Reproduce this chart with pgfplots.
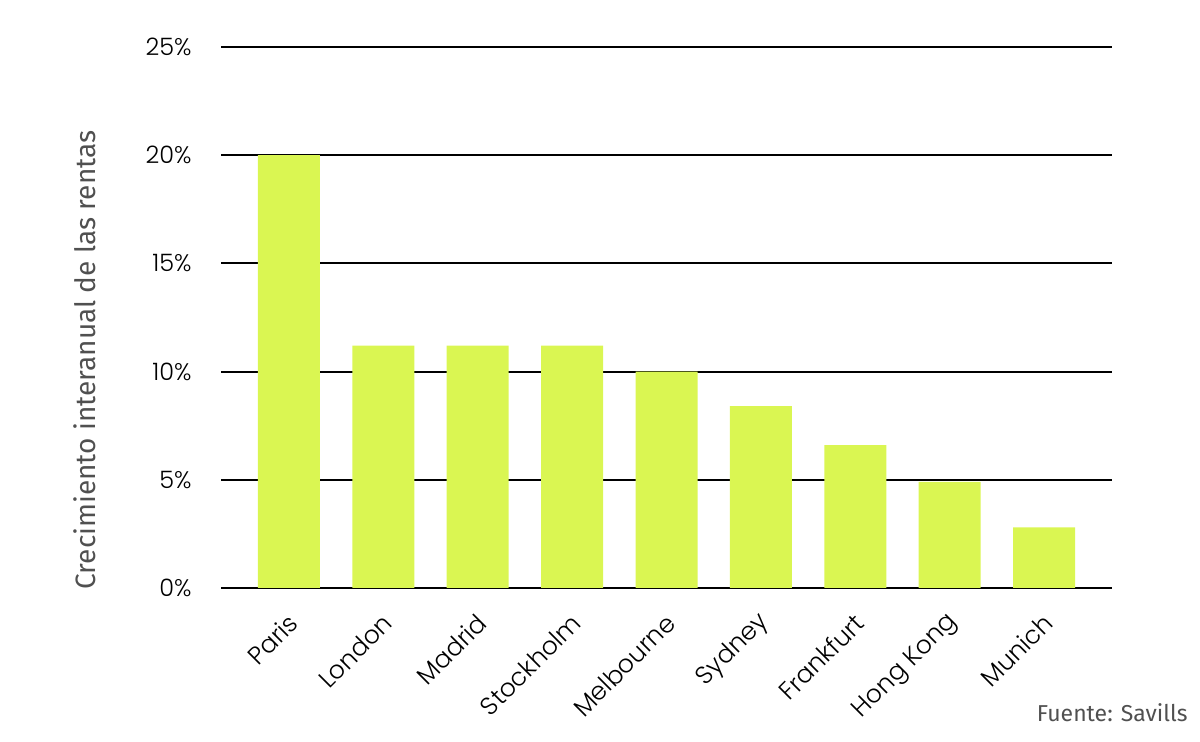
\documentclass[border=0pt]{standalone}
\usepackage{pgfplots}
\pgfplotsset{compat=1.18}
\usepackage{fontspec}
\setmainfont{Poppins}[UprightFont=* Light]
\newfontfamily\labelfont{Fira Sans}
\definecolor{barlime}{RGB}{218,246,82}
\definecolor{labgrey}{RGB}{80,80,80}

\begin{document}
\begin{tikzpicture}
  \useasboundingbox (0,0) rectangle (600pt,371pt);
  \begin{axis}[
    at={(110.5pt,77pt)}, anchor=south west,
    scale only axis,
    width=445.5pt, height=270.5pt,
    ybar, bar width=31pt,
    xmin=-0.72, xmax=8.72,
    ymin=0, ymax=25,
    axis line style={draw=none},
    major tick length=0pt,
    ytick={0,5,10,15,20,25},
    yticklabel={\pgfmathprintnumber{\tick}\%},
    /pgf/number format/assume math mode=true,
    ymajorgrids,
    grid style={black, line width=1pt},
    yticklabel style={font=\fontsize{12}{14}\selectfont, anchor=east, inner sep=0pt, xshift=-14.5pt},
    xtick=data,
    xticklabels={Paris,London,Madrid,Stockholm,Melbourne,Sydney,Frankfurt,Hong Kong,Munich},
    xticklabel style={font=\fontsize{12.5}{14}\selectfont, xshift=2.2pt, yshift=-15.3pt, rotate=45, anchor=east, inner sep=0pt},
  ]
    \addplot[fill=barlime, draw=none] coordinates {
      (0,20.0) (1,11.2) (2,11.2) (3,11.2) (4,10.0) (5,8.4) (6,6.6) (7,4.9) (8,2.8)
    };
  \end{axis}
  \node[rotate=90, text=labgrey, font=\labelfont\fontsize{14}{16}\selectfont] at (42.5pt,191pt) {Crecimiento interanual de las rentas};
  \node[anchor=base east, text=labgrey, font=\labelfont\fontsize{11.5}{14}\selectfont, inner sep=0pt] at (594pt,10pt) {Fuente: Savills};
\end{tikzpicture}
\end{document}
